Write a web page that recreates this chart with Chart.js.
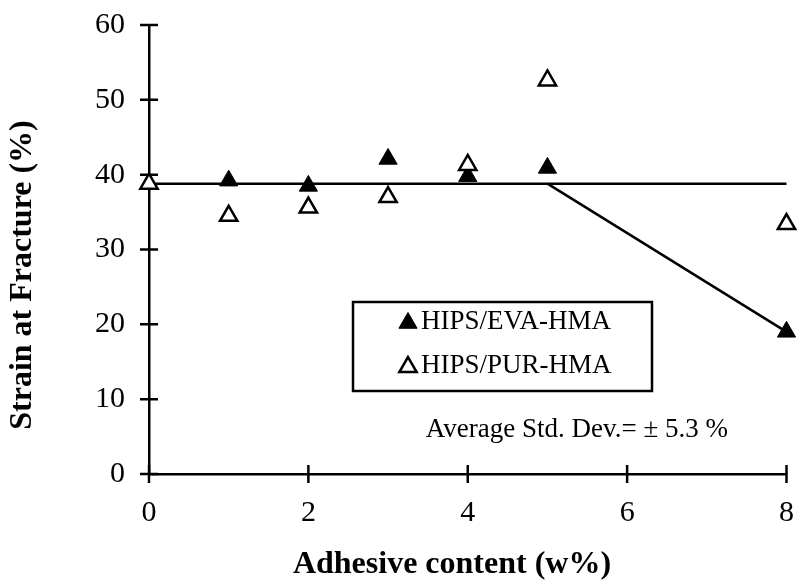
<!DOCTYPE html>
<html>
<head>
<meta charset="utf-8">
<script src="https://cdn.jsdelivr.net/npm/chart.js@4"></script>
<style>
	html, body { margin: 0; padding: 0; background: #fff; }
	canvas { display: block; }
</style>
</head>
<body>
<canvas id="grafica" width="799" height="581"></canvas>
<script>
// values
const evaX = [1, 2, 3, 4, 5, 8];
const evaValues = [39.2, 38.5, 42.1, 39.8, 40.9, 19.0];
const purX = [0, 1, 2, 3, 4, 5, 8];
const purValues = [38.8, 34.5, 35.6, 37.0, 41.3, 52.6, 33.4];
const flatX = [0, 8];
const flatY = [38.8, 38.8];
const dropX = [5, 8];
const dropY = [38.8, 19.0];
const xTicks = [0, 2, 4, 6, 8];
const yTicks = [0, 10, 20, 30, 40, 50, 60];
const seriesNames = ['HIPS/EVA-HMA', 'HIPS/PUR-HMA'];
const xTitle = 'Adhesive content (w%)';
const yTitle = 'Strain at Fracture (%)';
const note = 'Average Std. Dev.= \u00b1 5.3 %';

const serif = "'Liberation Serif', 'Times New Roman', serif";

function points(xs, ys) {
	return xs.map((x, i) => ({ x: x, y: ys[i] }));
}

function triangle(ctx, x, y, r, filled) {
	ctx.beginPath();
	ctx.moveTo(x, y - r);
	ctx.lineTo(x + r * Math.sin(Math.PI / 3), y + r / 2);
	ctx.lineTo(x - r * Math.sin(Math.PI / 3), y + r / 2);
	ctx.closePath();
	ctx.fillStyle = filled ? '#000' : '#fff';
	ctx.fill();
	ctx.lineWidth = filled ? 1 : 2.5;
	ctx.strokeStyle = '#000';
	ctx.stroke();
}

// tick marks that cross the axis lines
const crossTicks = {
	id: 'crossTicks',
	beforeDatasetsDraw(chart) {
		const ctx = chart.ctx;
		const sx = chart.scales.x;
		const sy = chart.scales.y;
		ctx.save();
		ctx.strokeStyle = '#000';
		ctx.lineWidth = 2.5;
		ctx.beginPath();
		xTicks.forEach((v) => {
			const px = sx.getPixelForValue(v);
			ctx.moveTo(px, sy.bottom - 9);
			ctx.lineTo(px, sy.bottom + 9);
		});
		yTicks.forEach((v) => {
			const py = sy.getPixelForValue(v);
			ctx.moveTo(sx.left - 9, py);
			ctx.lineTo(sx.left + 9, py);
		});
		ctx.stroke();
		ctx.restore();
	},
};

// legend box, note and axis titles
const extras = {
	id: 'extras',
	afterDraw(chart) {
		const ctx = chart.ctx;
		ctx.save();

		ctx.lineWidth = 2.5;
		ctx.strokeStyle = '#000';
		ctx.strokeRect(353, 302, 299, 89);

		triangle(ctx, 408, 323, 10.5, true);
		triangle(ctx, 408, 367, 10, false);

		ctx.fillStyle = '#000';
		ctx.font = '27px ' + serif;
		ctx.textBaseline = 'middle';
		ctx.textAlign = 'left';
		ctx.fillText(seriesNames[0], 421, 322);
		ctx.fillText(seriesNames[1], 421, 366);

		ctx.textAlign = 'right';
		ctx.fillText(note, 728, 430);

		ctx.font = 'bold 32px ' + serif;
		ctx.textAlign = 'center';
		ctx.textBaseline = 'alphabetic';
		ctx.fillText(xTitle, 452, 573);

		ctx.textBaseline = 'middle';
		ctx.translate(23, 275);
		ctx.rotate(-Math.PI / 2);
		ctx.fillText(yTitle, 0, 0);
		ctx.restore();
	},
};

const ctx = document.querySelector('#grafica');
const chart = new Chart(ctx, {
	type: 'scatter',
	data: {
		datasets: [
			{
				label: seriesNames[1],
				data: points(purX, purValues),
				pointStyle: 'triangle',
				pointRadius: 10,
				backgroundColor: '#fff',
				borderColor: '#000',
				borderWidth: 2.5,
				clip: false,
				order: 0,
			},
			{
				label: seriesNames[0],
				data: points(evaX, evaValues),
				pointStyle: 'triangle',
				pointRadius: 10.5,
				backgroundColor: '#000',
				borderColor: '#000',
				borderWidth: 1,
				clip: false,
				order: 1,
			},
			{
				label: 'flat',
				data: points(flatX, flatY),
				showLine: true,
				pointRadius: 0,
				borderColor: '#000',
				borderWidth: 2.5,
				clip: false,
				order: 2,
			},
			{
				label: 'drop',
				data: points(dropX, dropY),
				showLine: true,
				pointRadius: 0,
				borderColor: '#000',
				borderWidth: 2.5,
				clip: false,
				order: 2,
			},
		],
	},
	options: {
		responsive: false,
		animation: false,
		layout: {
			padding: { left: 0, right: 7, top: 25, bottom: 0 },
		},
		plugins: {
			legend: { display: false },
			tooltip: { enabled: false },
		},
		scales: {
			x: {
				type: 'linear',
				min: 0,
				max: 8,
				grid: { display: false, drawTicks: false },
				border: { display: true, color: '#000', width: 2.5 },
				ticks: {
					stepSize: 2,
					padding: 21,
					color: '#000',
					font: { family: serif, size: 30 },
				},
				afterFit: (scale) => {
					scale.height = 107;
					scale.paddingLeft = 0;
					scale.paddingRight = 0;
				},
			},
			y: {
				min: 0,
				max: 60,
				grid: { display: false, drawTicks: false },
				border: { display: true, color: '#000', width: 2.5 },
				ticks: {
					stepSize: 10,
					padding: 24,
					color: '#000',
					font: { family: serif, size: 30 },
				},
				afterFit: (scale) => {
					scale.width = 149;
					scale.paddingTop = 0;
					scale.paddingBottom = 0;
				},
			},
		},
	},
	plugins: [crossTicks, extras],
});
</script>
</body>
</html>
